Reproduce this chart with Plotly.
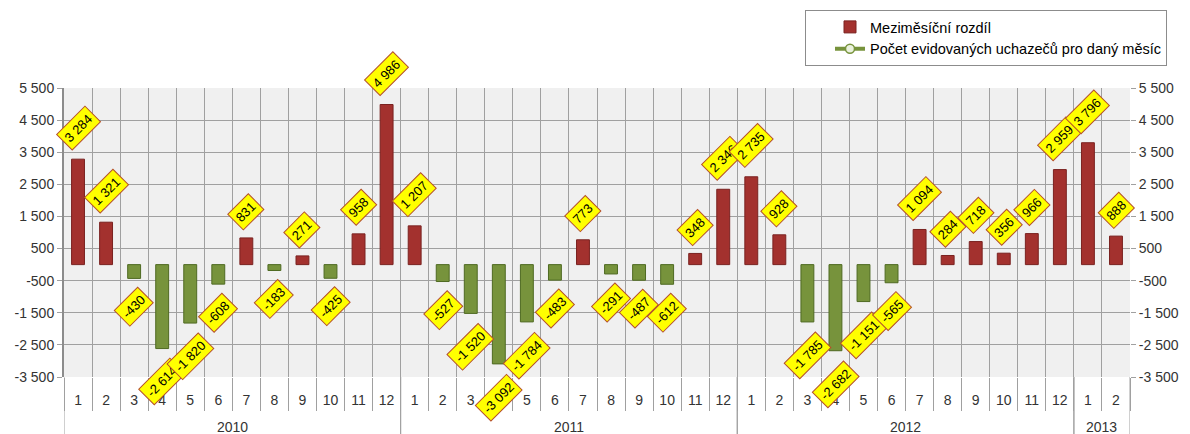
import plotly.graph_objects as go

years = ["2010"] * 12 + ["2011"] * 12 + ["2012"] * 12 + ["2013"] * 2
months = [str(m) for m in range(1, 13)] * 3 + ["1", "2"]
values = [3284, 1321, -430, -2614, -1820, -608, 831, -183, 271, -425, 958, 4986,
          1207, -527, -1520, -3092, -1784, -483, 773, -291, -487, -612, 348, 2346,
          2735, 928, -1785, -2682, -1151, -565, 1094, 284, 718, 356, 966, 2959,
          3796, 888]
y_ticks = [5500, 4500, 3500, 2500, 1500, 500, -500, -1500, -2500, -3500]
series_names = ["Meziměsíční rozdíl", "Počet evidovaných uchazečů pro daný měsíc"]


def fmt(v):
    s = f"{abs(v):,}".replace(",", " ")
    return ("-" if v < 0 else "") + s


n = len(values)
idx = list(range(n))
grid_c = "#A0A0A0"
pos_fill, pos_line = "#A3312E", "#7A2220"
neg_fill, neg_line = "#77933C", "#4F6A22"

fig = go.Figure()
fig.add_trace(go.Bar(
    x=idx, y=values, name=series_names[0], legendgroup="a",
    marker=dict(color=[pos_fill if v >= 0 else neg_fill for v in values],
                line=dict(color=[pos_line if v >= 0 else neg_line for v in values], width=1)),
    width=0.46, showlegend=True,
))
fig.add_trace(go.Scatter(
    x=idx, y=[None] * n, name=series_names[1], legendgroup="b",
    mode="lines+markers", yaxis="y2",
    line=dict(color="#77933C", width=4),
    marker=dict(symbol="circle", size=9, color="#EAF1DD", line=dict(color="#77933C", width=1.5)),
))

tick_font = dict(family="Liberation Sans", size=14, color="#333333")
tick_text = [fmt(v) for v in y_ticks]

# value labels
for i, v in enumerate(values):
    t = fmt(v)
    w = len(t) * 7 + 10
    off = (w + 20) / 2.83 + 8
    fig.add_annotation(
        x=i, y=v, xref="x", yref="y", text=t, showarrow=False,
        textangle=-45, yshift=off if v >= 0 else -off,
        bgcolor="#FFFF00", bordercolor="#B5502A", borderwidth=1, borderpad=3,
        font=dict(family="Liberation Sans", size=13, color="#000000"),
    )

# year group labels and dividers
groups = []
for i, y in enumerate(years):
    if not groups or groups[-1][0] != y:
        groups.append([y, i, i])
    else:
        groups[-1][2] = i
for y, a, b in groups:
    fig.add_annotation(
        x=(a + b) / 2, y=-0.173, xref="x", yref="paper", text=y, showarrow=False,
        yanchor="middle", font=tick_font,
    )
    for bx in (a - 0.5, b + 0.5):
        fig.add_shape(type="line", xref="x", yref="paper", x0=bx, x1=bx, y0=0, y1=-0.2,
                      line=dict(color=grid_c, width=1), layer="below")

boundaries = [i - 0.5 for i in range(n + 1)]

fig.update_layout(
    width=1182, height=426,
    margin=dict(l=56, r=60, t=80, b=57, autoexpand=False),
    paper_bgcolor="#FFFFFF", plot_bgcolor="#F0F0F0",
    xaxis=dict(
        range=[-0.5, n - 0.5], tickvals=idx, ticktext=months, ticks="",
        showgrid=False, zeroline=False, showline=False,
        tickfont=tick_font, ticklabelstandoff=13,
        minor=dict(tickvals=boundaries, showgrid=True, gridcolor=grid_c, gridwidth=1,
                   ticks="outside", ticklen=33, tickcolor=grid_c),
    ),
    yaxis=dict(
        range=[-3500, 5500], tickvals=y_ticks, ticktext=tick_text,
        showgrid=True, gridcolor=grid_c, gridwidth=1, zeroline=False,
        ticks="outside", ticklen=5, tickcolor=grid_c,
        showline=True, linecolor="#8C8C8C", linewidth=2,
        tickfont=tick_font,
    ),
    yaxis2=dict(
        overlaying="y", side="right", range=[-3500, 5500], tickvals=y_ticks, ticktext=tick_text,
        showgrid=False, zeroline=False, ticks="outside", ticklen=5, tickcolor=grid_c,
        tickfont=tick_font,
    ),
    legend=dict(
        x=(805 - 64) / 1066, y=1.27, xanchor="left", yanchor="top",
        bgcolor="#FFFFFF", bordercolor="#8C8C8C", borderwidth=1,
        font=dict(family="Liberation Sans", size=14.5, color="#000000"),
        indentation=24, tracegroupgap=0,
    ),
)

fig.write_html("out.html")
